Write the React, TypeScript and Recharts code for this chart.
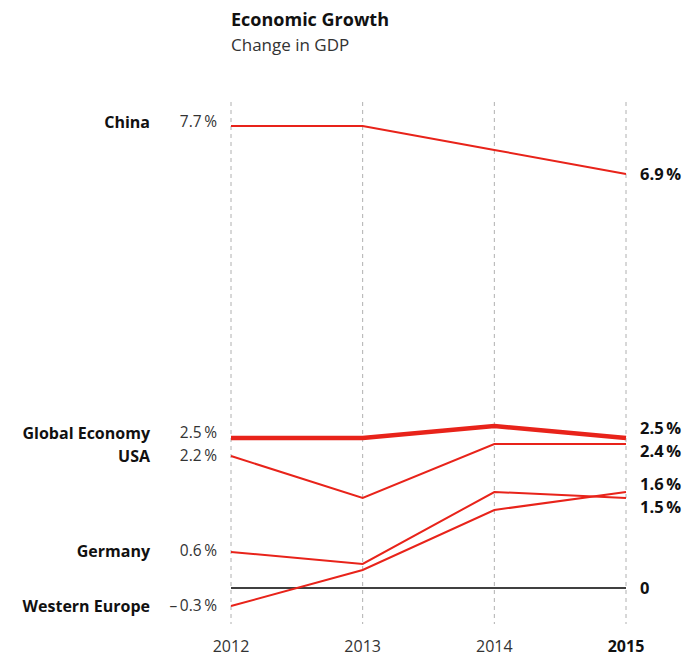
import React from 'react';
import { LineChart, Line, XAxis, YAxis, CartesianGrid, ReferenceLine, LabelList } from 'recharts';

const years = [2012, 2013, 2014, 2015];
const china = [7.7, 7.7, 7.3, 6.9];
const globalEconomy = [2.5, 2.5, 2.7, 2.5];
const usa = [2.2, 1.5, 2.4, 2.4];
const germany = [0.6, 0.4, 1.6, 1.5];
const westernEurope = [-0.3, 0.3, 1.3, 1.6];

const data = years.map((year, i) => ({
  year,
  china: china[i],
  globalEconomy: globalEconomy[i],
  usa: usa[i],
  germany: germany[i],
  westernEurope: westernEurope[i],
}));

const FONT = "'Open Sans', 'Roboto', sans-serif";
const RED = '#e8231a';

const fmt = (v: number) => (v < 0 ? `\u2013\u2009${Math.abs(v).toFixed(1)}\u2009%` : `${v.toFixed(1)}\u2009%`);

// label nudges so stacked labels don't collide
const series = [
  { key: 'china', name: 'China', width: 2, leftDy: -4, rightDy: 0 },
  { key: 'globalEconomy', name: 'Global Economy', width: 4.5, leftDy: -5, rightDy: -10 },
  { key: 'usa', name: 'USA', width: 2, leftDy: 0, rightDy: 7 },
  { key: 'germany', name: 'Germany', width: 2, leftDy: -1, rightDy: 9 },
  { key: 'westernEurope', name: 'Western Europe', width: 2, leftDy: 0, rightDy: -8 },
];

const makeLabel = (name: string, leftDy: number, rightDy: number) => (props: any) => {
  const { x, y, value, index } = props;
  if (index === 0) {
    return (
      <g>
        <text x={150} y={y + leftDy} dy="0.35em" textAnchor="end" fontFamily={FONT} fontSize={16} fontWeight={700} fill="#111">
          {name}
        </text>
        <text x={217} y={y + leftDy} dy="0.35em" textAnchor="end" fontFamily={FONT} fontSize={15.5} fill="#333">
          {fmt(value)}
        </text>
      </g>
    );
  }
  if (index === years.length - 1) {
    return (
      <text x={x + 14} y={y + rightDy} dy="0.35em" textAnchor="start" fontFamily={FONT} fontSize={16.5} fontWeight={700} fill="#111">
        {fmt(value)}
      </text>
    );
  }
  return null;
};

const XTick = (props: any) => {
  const { x, y, payload } = props;
  const last = payload.value === years[years.length - 1];
  return (
    <text x={x} y={y + 22} dy="0.35em" textAnchor="middle" fontFamily={FONT} fontSize={16} fontWeight={last ? 700 : 400} fill={last ? '#111' : '#333'}>
      {payload.value}
    </text>
  );
};

export default function App() {
  return (
    <div style={{ position: 'absolute', left: 0, top: 0, width: 684, height: 656, background: '#fff' }}>
      <div style={{ position: 'absolute', left: 231, top: 7, fontFamily: FONT, lineHeight: '25px' }}>
        <div style={{ fontSize: 18, fontWeight: 700, color: '#111' }}>Economic Growth</div>
        <div style={{ fontSize: 17, color: '#333' }}>Change in GDP</div>
      </div>
      <LineChart width={684} height={656} data={data} margin={{ top: 102, right: 58, bottom: 0, left: 231 }}>
        <CartesianGrid horizontal={false} stroke="#b0b0b0" strokeDasharray="4 4" />
        <XAxis
          dataKey="year"
          type="number"
          domain={[2012, 2015]}
          ticks={years}
          axisLine={false}
          tickLine={false}
          tickSize={0}
          tick={<XTick />}
          tickMargin={0}
          height={32}
        />
        <YAxis hide domain={[-0.6, 8.1]} type="number" />
        <ReferenceLine y={0} stroke="#000" strokeWidth={1.3}
          label={{ value: '0', position: 'right', offset: 14, fontFamily: FONT, fontSize: 16.5, fontWeight: 700, fill: '#111' }} />
        {series.map((s) => (
          <Line
            key={s.key}
            dataKey={s.key}
            type="linear"
            stroke={RED}
            strokeWidth={s.width}
            dot={false}
            isAnimationActive={false}
          >
            <LabelList dataKey={s.key} content={makeLabel(s.name, s.leftDy, s.rightDy)} />
          </Line>
        ))}
      </LineChart>
    </div>
  );
}
